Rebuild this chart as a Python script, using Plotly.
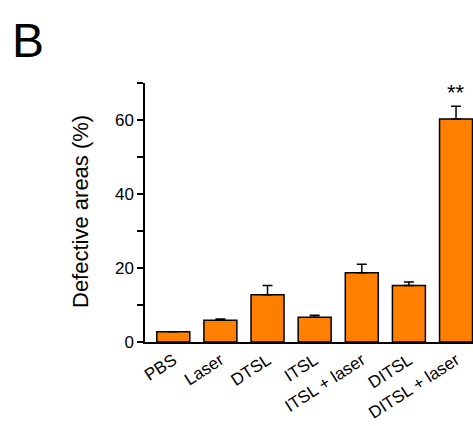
import plotly.graph_objects as go

categories = ["PBS", "Laser", "DTSL", "ITSL", "ITSL + laser", "DITSL", "DITSL + laser"]
values = [2.8, 5.9, 12.8, 6.7, 18.7, 15.3, 60.3]
errors = [0.0, 0.3, 2.5, 0.5, 2.3, 0.9, 3.4]
ytick_vals = [0, 10, 20, 30, 40, 50, 60, 70]
ytick_text = ["0", "", "20", "", "40", "", "60", ""]

FONT = "Liberation Sans, Arial, sans-serif"

L, T, B = 145, 83, 84
W, H = 473, 426
PW = W - L
PH = H - T - B

fig = go.Figure()
fig.add_trace(go.Bar(
    x=list(range(len(categories))),
    y=values,
    width=0.7,
    marker=dict(color="#FF8000", line=dict(color="black", width=1.5)),
    error_y=dict(type="data", array=errors, arrayminus=[0] * len(errors), symmetric=False,
                 color="black", thickness=1.5, width=5),
    cliponaxis=False,
))

fig.update_layout(
    width=W, height=H,
    margin=dict(l=L, r=0, t=T, b=B),
    paper_bgcolor="white", plot_bgcolor="white",
    showlegend=False,
    font=dict(family=FONT, color="black"),
    xaxis=dict(
        range=[-0.6, 6.36],
        tickvals=list(range(len(categories))),
        ticktext=categories,
        tickangle=-33,
        tickfont=dict(size=17),
        showline=True, linecolor="black", linewidth=1.5,
        ticks="", showgrid=False, zeroline=False,
    ),
    yaxis=dict(
        range=[0, 70],
        tickvals=ytick_vals,
        ticktext=ytick_text,
        tickfont=dict(size=17),
        ticks="outside", ticklen=6, tickwidth=1.5, tickcolor="black",
        showline=True, linecolor="black", linewidth=1.5,
        showgrid=False, zeroline=False,
    ),
    annotations=[
        dict(text="Defective areas (%)", textangle=-90, xref="paper", yref="paper",
             x=(80 - L) / PW, y=(342 - 212) / PH, xanchor="center", yanchor="middle",
             showarrow=False, font=dict(size=22, family=FONT)),
        dict(text="**", xref="x", yref="y", x=6, y=67.3, showarrow=False,
             font=dict(size=22, family=FONT)),
        dict(text="B", xref="paper", yref="paper", x=(28 - L) / PW, y=(342 - 40) / PH,
             xanchor="center", yanchor="middle", showarrow=False,
             font=dict(size=48, family=FONT)),
    ],
)

fig.write_html(
    "out.html",
    config={"displayModeBar": False},
    post_script="document.body.style.margin='0';document.body.style.overflow='hidden';",
)
